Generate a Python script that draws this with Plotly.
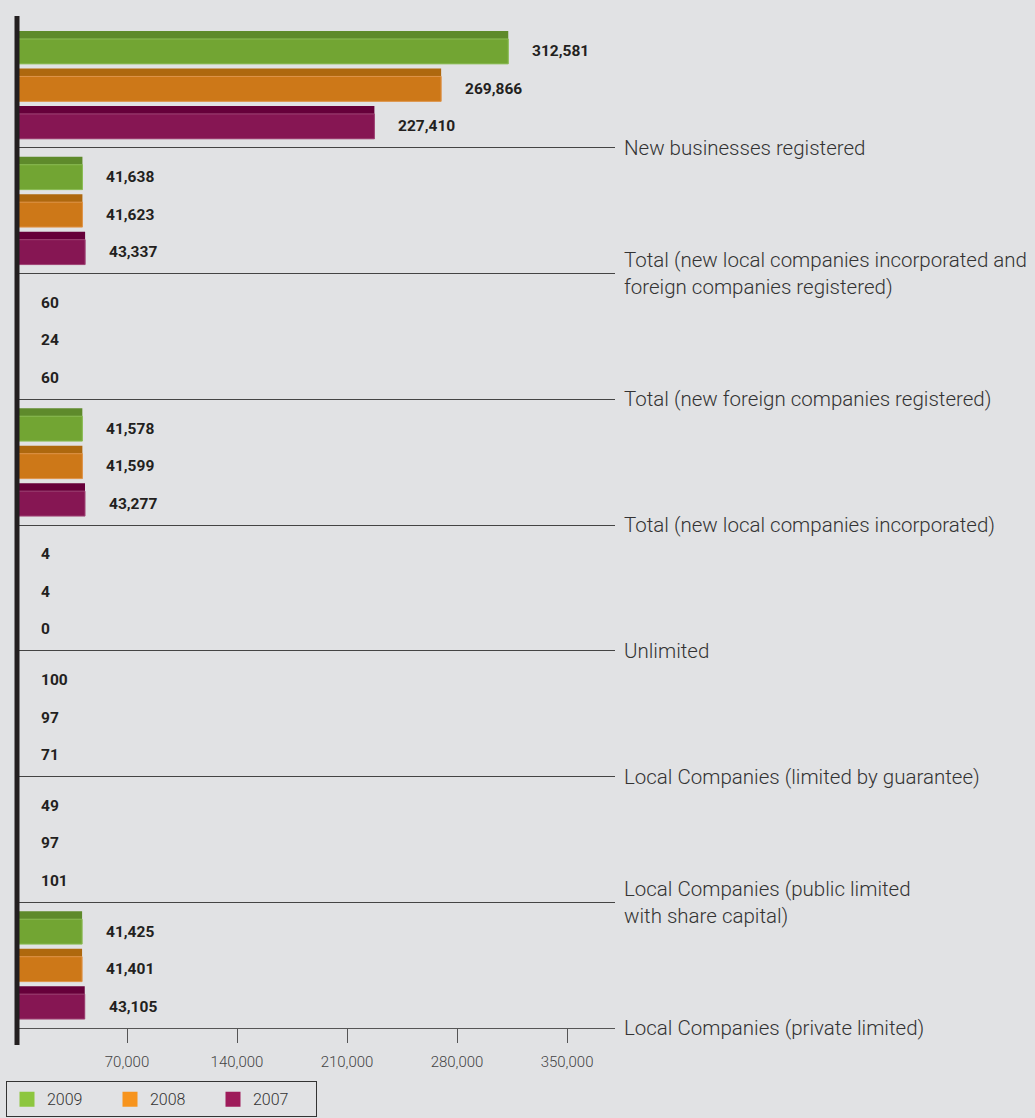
import plotly.graph_objects as go

# Category names (top to bottom) and yearly counts
categories = [
    "New businesses registered",
    "Total (new local companies incorporated and<br>foreign companies registered)",
    "Total (new foreign companies registered)",
    "Total (new local companies incorporated)",
    "Unlimited",
    "Local Companies (limited by guarantee)",
    "Local Companies (public limited<br>with share capital)",
    "Local Companies (private limited)",
]
years = ["2009", "2008", "2007"]
values_2009 = [312581, 41638, 60, 41578, 4, 100, 49, 41425]
values_2008 = [269866, 41623, 24, 41599, 4, 97, 97, 41401]
values_2007 = [227410, 43337, 60, 43277, 0, 71, 101, 43105]
x_tick_values = [70000, 140000, 210000, 280000, 350000]

series = [values_2009, values_2008, values_2007]
face_colors = ["#72a533", "#cd7818", "#861653"]
top_colors = ["#5e8a2b", "#ae680e", "#66003a"]
edge_colors = ["#8cbd55", "#e0954a", "#a04676"]
legend_colors = ["#8dc63f", "#f7941d", "#9e1b5a"]

FONT = "Roboto, DejaVu Sans Condensed, sans-serif"
BG = "#e1e2e4"

# Geometry of one band (in category units)
gap = 0.071
bar_h = 0.262
step = 0.298
strip = 0.064

positions = list(range(len(categories)))
fig = go.Figure()

for k, vals in enumerate(series):
    off = -0.5 + gap + k * step
    # darker top face of the bar
    fig.add_trace(go.Bar(
        y=positions, x=vals, orientation="h",
        width=bar_h, offset=off,
        marker=dict(color=top_colors[k], line=dict(width=0)),
        showlegend=False, hoverinfo="skip",
    ))
    # front face of the bar
    fig.add_trace(go.Bar(
        y=positions, x=vals, orientation="h",
        width=bar_h - strip, offset=off + strip,
        marker=dict(color=face_colors[k], line=dict(width=1, color=edge_colors[k])),
        name=years[k], showlegend=False,
    ))
    for i, v in enumerate(vals):
        fig.add_annotation(
            x=v, y=i + off + strip + (bar_h - strip) / 2,
            xref="x", yref="y",
            text=f"<b>{v:,}</b>", showarrow=False,
            xanchor="left", yanchor="middle", xshift=22,
            font=dict(family=FONT, size=15.5, color="#231f20"),
        )

# legend entries
for k, yr in enumerate(years):
    fig.add_trace(go.Scatter(
        x=[None], y=[None], mode="markers", name=yr,
        marker=dict(symbol="square", size=15, color=legend_colors[k]),
    ))

# heavy vertical axis line on the left
fig.add_shape(
    type="line", xref="paper", yref="paper",
    x0=0, x1=0, y0=-0.017, y1=1.006,
    line=dict(color="#231f20", width=5), layer="above",
)

fig.update_layout(
    width=1035, height=1118,
    margin=dict(l=17, r=420, t=22, b=90, autoexpand=False),
    paper_bgcolor=BG, plot_bgcolor=BG,
    barmode="overlay",
    showlegend=True,
    legend=dict(
        orientation="h", x=-0.0184, y=-0.053, xanchor="left", yanchor="top",
        bordercolor="#333333", borderwidth=1, bgcolor="rgba(0,0,0,0)",
        font=dict(family=FONT, size=16, color="#333333", weight=300),
        entrywidth=58, itemwidth=30,
    ),
    xaxis=dict(
        range=[0, 380500], tickvals=x_tick_values,
        ticktext=[f"{v:,}" for v in x_tick_values],
        showgrid=False, zeroline=False,
        showline=True, linecolor="#555555", linewidth=1.2,
        ticks="outside", ticklen=14, tickcolor="#555555", tickwidth=1.2,
        ticklabelstandoff=6,
        tickfont=dict(family=FONT, size=15, color="#444444", weight=300),
        automargin=False, fixedrange=True,
    ),
    yaxis=dict(
        range=[len(categories) - 0.5, -0.5],
        tickvals=[p + 0.5 for p in positions],
        ticktext=categories,
        side="right",
        showgrid=True, gridcolor="#444444", gridwidth=1.2,
        zeroline=False, showline=False,
        ticks="", ticklabelstandoff=8,
        tickfont=dict(family=FONT, size=20.5, color="#333333", weight=300),
        automargin=False, fixedrange=True,
    ),
)

fig.write_html("out.html")
